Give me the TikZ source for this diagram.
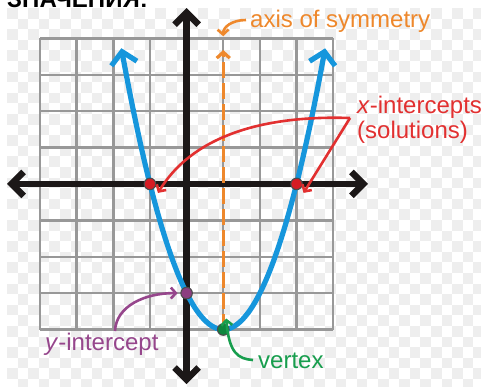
\documentclass[tikz,border=0pt]{standalone}
\usepackage{fontspec}
\setmainfont{Liberation Sans}
\usetikzlibrary{arrows.meta}
\definecolor{checkc}{RGB}{238,238,238}
\definecolor{gridc}{RGB}{152,152,152}
\definecolor{axisc}{RGB}{28,24,24}
\definecolor{bluec}{RGB}{22,150,220}
\definecolor{orangec}{RGB}{238,136,44}
\definecolor{redc}{RGB}{226,48,48}
\definecolor{reddot}{RGB}{214,28,36}
\definecolor{purplec}{RGB}{150,70,140}
\definecolor{purpledot}{RGB}{140,62,128}
\definecolor{greenc}{RGB}{24,158,78}
\definecolor{greendot}{RGB}{14,134,62}
\begin{document}
\begin{tikzpicture}[x=1pt,y=-1pt,
  lbl/.style={font=\fontsize{24}{25}\selectfont, inner sep=0pt, anchor=base west},
  gridline/.style={gridc, line width=2.4pt},
  axisline/.style={axisc, line width=6.5pt, {Straight Barb[length=12pt,width=24pt]}-{Straight Barb[length=12pt,width=24pt]}},
  dotnode/.style={circle, draw=black!70, line width=1.1pt, minimum size=11.5pt, inner sep=0pt},
  callout/.style={line width=2.6pt, -{Straight Barb[length=5pt,width=11pt]}}]
\useasboundingbox (0,0) rectangle (481,386);
\clip (0,0) rectangle (481,386);
\fill[white] (0,0) rectangle (481,386);
% transparency checkerboard
\foreach \i in {0,...,44}{
  \foreach \j in {0,...,35}{
    \pgfmathtruncatemacro\chk{mod(\i+\j,2)}
    \ifnum\chk=0
      \fill[checkc] ({7+\i*10.6},{8+\j*10.6}) rectangle +(10.6,10.6);
    \fi
  }
}
% cut-off heading at the top
\node[anchor=base west, inner sep=0pt, font=\bfseries\fontsize{24}{24}\selectfont] (ttl) at (7,7) {ЗНАЧЕНИЯ:};

\begin{scope}[shift={(186.6,183.9)}, x=36.65pt, y=36.4pt]
  \foreach \k in {-4,...,4}{
    \draw[gridline] (\k,-4) -- (\k,4);
    \draw[gridline] (-4,\k) -- (4,\k);
  }
  % axes
  \draw[axisline] (-4.9,0) -- (4.95,0);
  \draw[axisline] (0,-5.5) -- (0,4.83);
  % axis of symmetry
  \draw[orangec, line width=3.2pt, dash pattern=on 16pt off 5pt,
        -{Straight Barb[length=6pt,width=13pt]}] (1,-4) -- (1,3.68);
  % parabola
  \draw[bluec, line width=5.2pt, line cap=round,
        {Straight Barb[length=12pt,width=26pt]}-{Straight Barb[length=12pt,width=26pt]}]
        plot[domain=-1.78:3.78, samples=80, smooth] (\x,{(\x-1)^2-4});
  % special points
  \node[dotnode, fill=reddot] (xl) at (-1,0) {};
  \node[dotnode, fill=reddot] (xr) at (3,0) {};
  \node[dotnode, fill=purpledot] (yi) at (0,-3) {};
  \node[dotnode, fill=greendot] (vx) at (1,-4) {};
  \coordinate (axtop) at (1,4);
\end{scope}

% labels
\node[lbl, text=orangec] (axl) at (250,27) {axis of symmetry};
\node[lbl, text=redc] (xil) at (357,113) {\textit{x}-intercepts};
\node[lbl, text=redc] (sol) at (357,138) {(solutions)};
\node[lbl, text=purplec] (yil) at (45,350) {\textit{y}-intercept};
\node[lbl, text=greenc] (vxl) at (258,368) {vertex};

% callout arrows
\coordinate (oa) at (246,20);
\coordinate (rj) at (350,118);
\coordinate (pa) at (115,331);
\coordinate (ga) at (253,360);
\draw[callout, orangec] (oa) .. controls (232,20) and (223,27) .. ([yshift=2pt]axtop);
\draw[callout, redc] (rj) .. controls (290,116) and (200,124) .. ([xshift=8pt,yshift=-9pt]xl.center);
\draw[callout, redc] (rj) -- ([xshift=7pt,yshift=-9pt]xr.center);
\draw[callout, purplec] (pa) .. controls (116,306) and (145,293) .. ([xshift=-9pt]yi.center);
\draw[callout, greenc] (ga) .. controls (238,359) and (229,353) .. ([xshift=3pt,yshift=11pt]vx.center);
\end{tikzpicture}
\end{document}
